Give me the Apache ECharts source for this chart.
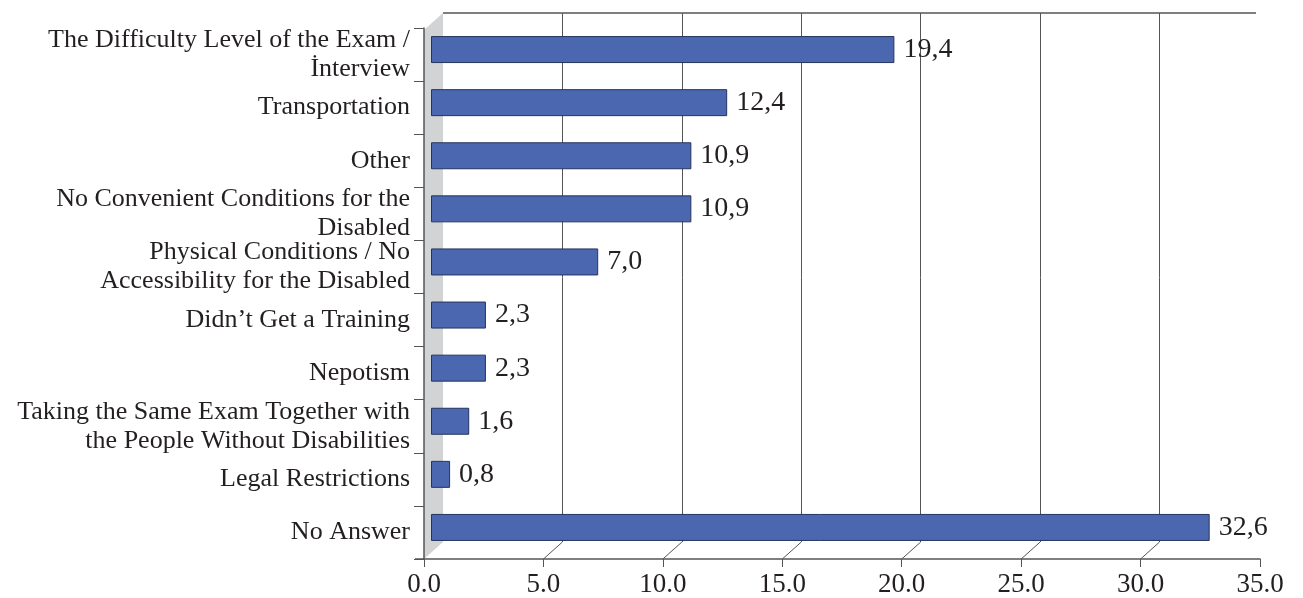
<!DOCTYPE html>
<html>
<head>
<meta charset="utf-8">
<script src="https://cdn.jsdelivr.net/npm/echarts@6/dist/echarts.min.js"></script>
<style>html,body{margin:0;padding:0;background:#fff;}#c{width:1303px;height:598px;}</style>
</head>
<body>
<div id="c"></div>
<script>
const categories = [
  "The Difficulty Level of the Exam /\nİnterview",
  "Transportation",
  "Other",
  "No Convenient Conditions for the\nDisabled",
  "Physical Conditions / No\nAccessibility for the Disabled",
  "Didn’t Get a Training",
  "Nepotism",
  "Taking the Same Exam Together with\nthe People Without Disabilities",
  "Legal Restrictions",
  "No Answer"
];
const values = [19.4, 12.4, 10.9, 10.9, 7.0, 2.3, 2.3, 1.6, 0.8, 32.6];
const xMin = 0, xMax = 35, xStep = 5;

const FONT = "Liberation Serif";
const TXT = "#231f20";
const AX = "#555555";

const front = {left: 424, top: 28, width: 836, height: 531};
const back  = {left: 443, top: 13, width: 836, height: 529};
const mid   = {left: 431, top: 23, width: 836, height: 531};

const chart = echarts.init(document.getElementById('c'), null, {renderer: 'canvas'});

const option = {
  animation: false,
  backgroundColor: '#ffffff',
  grid: [
    Object.assign({containLabel: false}, front),
    Object.assign({containLabel: false}, back),
    Object.assign({containLabel: false}, mid)
  ],
  xAxis: [
    {
      gridIndex: 0, type: 'value', min: xMin, max: xMax, interval: xStep, position: 'bottom',
      axisLine: {show: true, lineStyle: {color: AX, width: 1.5}},
      axisTick: {show: true, length: 8, lineStyle: {color: AX}},
      splitLine: {show: false},
      axisLabel: {fontFamily: FONT, fontSize: 27, color: TXT, margin: 12,
        formatter: v => v.toFixed(1)}
    },
    {
      gridIndex: 1, type: 'value', min: xMin, max: xMax, interval: xStep,
      axisLine: {show: false}, axisTick: {show: false}, axisLabel: {show: false},
      splitLine: {show: true, showMinLine: false, showMaxLine: false, lineStyle: {color: AX, width: 1}}
    },
    {
      gridIndex: 2, type: 'value', min: xMin, max: xMax, interval: xStep, show: false,
      splitLine: {show: false}
    }
  ],
  yAxis: [
    {
      gridIndex: 0, type: 'category', data: categories, inverse: true,
      axisLine: {show: true, lineStyle: {color: AX, width: 1.5}},
      axisTick: {show: true, length: 10, lineStyle: {color: AX}},
      axisLabel: {fontFamily: FONT, fontSize: 26, color: TXT, margin: 14, lineHeight: 29, align: 'right'}
    },
    {
      gridIndex: 1, type: 'category', data: categories, inverse: true, show: false
    },
    {
      gridIndex: 2, type: 'category', data: categories, inverse: true, show: false
    }
  ],
  series: [{
    type: 'bar',
    xAxisIndex: 2, yAxisIndex: 2,
    data: values,
    barWidth: 27,
    z: 5,
    itemStyle: {color: '#4a67b0', borderColor: '#25345e', borderWidth: 1},
    label: {
      show: true, position: 'right', distance: 9,
      fontFamily: FONT, fontSize: 28, color: TXT,
      formatter: p => p.value.toFixed(1).replace('.', ',')
    }
  }]
};
chart.setOption(option);

// 3D-like decorations: side wall, top edge, depth connectors
const fx = v => chart.convertToPixel({xAxisIndex: 0}, v);
const bx = v => chart.convertToPixel({xAxisIndex: 1}, v);
const fTop = front.top, fBot = front.top + front.height;
const bTop = back.top, bBot = back.top + back.height;

const graphics = [];
graphics.push({
  type: 'polygon', z: 0, silent: true,
  shape: {points: [[fx(0), fTop + 2], [bx(0), bTop], [bx(0), bBot], [fx(0), fBot]]},
  style: {fill: '#d2d3d5', stroke: null}
});
graphics.push({
  type: 'line', z: 1, silent: true,
  shape: {x1: bx(0), y1: bTop, x2: fx(xMax) - 4, y2: bTop},
  style: {stroke: AX, lineWidth: 1.5}
});
graphics.push({
  type: 'line', z: 1, silent: true,
  shape: {x1: fx(0) - 9, y1: fBot, x2: fx(0), y2: fBot},
  style: {stroke: AX, lineWidth: 1.5}
});
for (let v = xMin + xStep; v < xMax; v += xStep) {
  graphics.push({
    type: 'line', z: 1, silent: true,
    shape: {x1: bx(v), y1: bBot, x2: fx(v), y2: fBot},
    style: {stroke: AX, lineWidth: 1}
  });
}
chart.setOption({graphic: graphics});
</script>
</body>
</html>
